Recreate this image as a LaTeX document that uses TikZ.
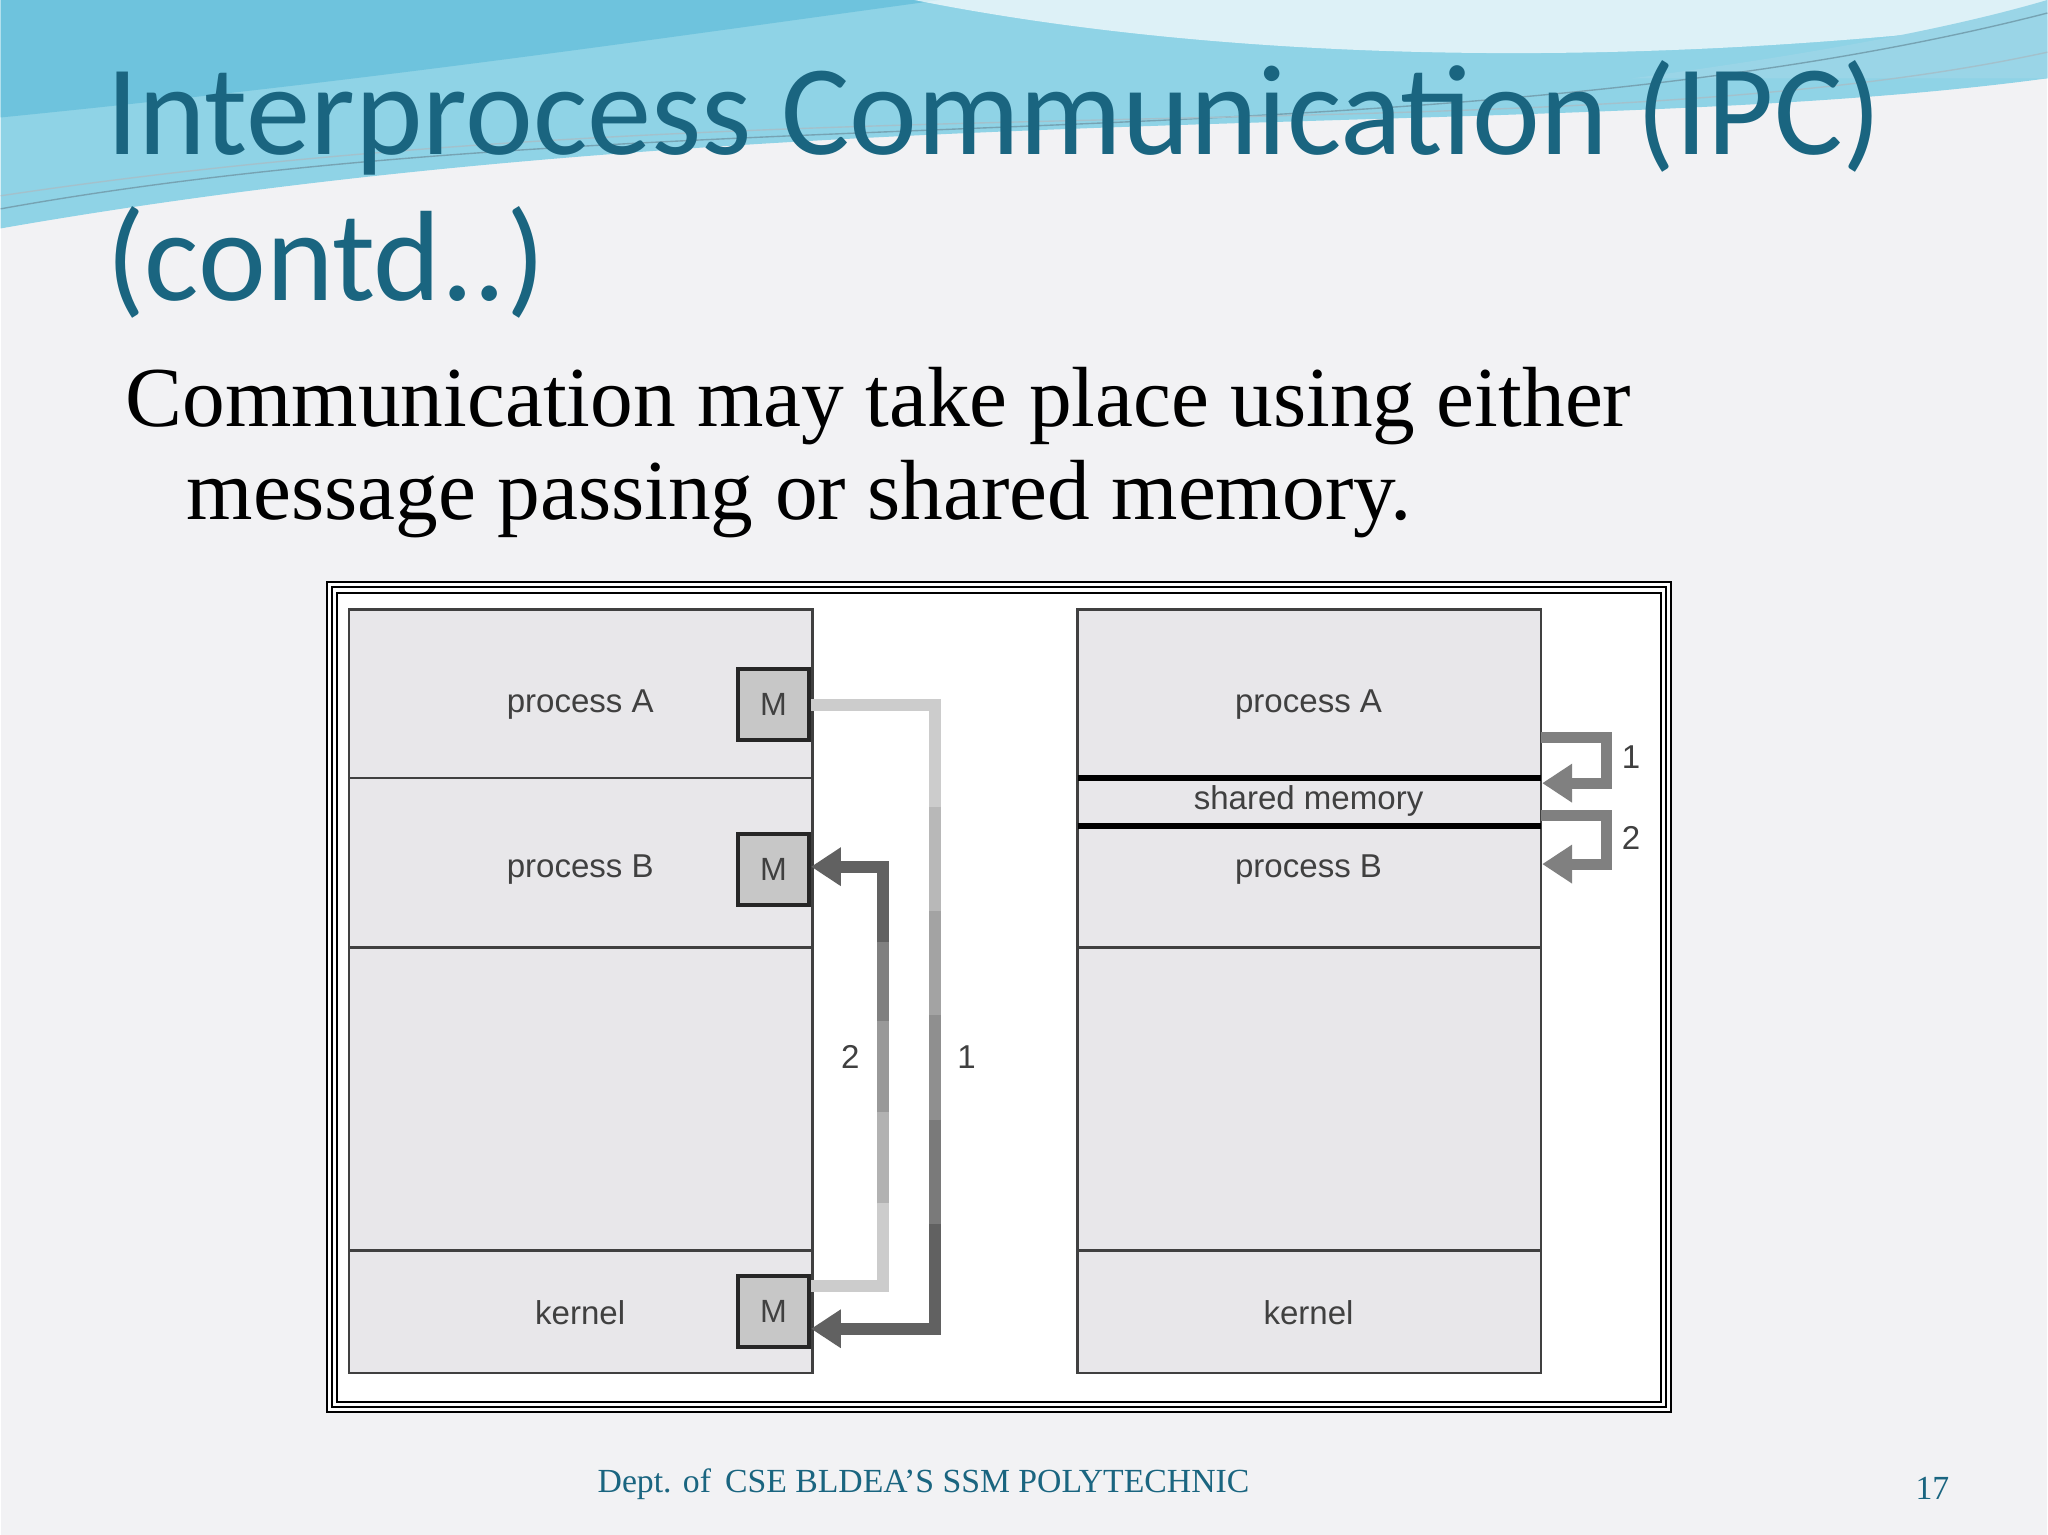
\documentclass[tikz,border=0pt]{standalone}
\usepackage{fontspec}
\setmainfont{Liberation Serif}
\newfontfamily\titlefont{Carlito}
\newfontfamily\labfont{Liberation Sans}
\usetikzlibrary{arrows.meta}
\definecolor{teal1}{HTML}{1A6580}
\definecolor{boxg}{HTML}{E8E7EA}
\definecolor{bg}{HTML}{F2F2F4}
\definecolor{wave1}{HTML}{8FD3E6}
\definecolor{wave2}{HTML}{6EC3DD}
\tikzset{
 pbox/.style={draw=black!75,line width=0.5pt,fill=boxg},
 mbox/.style={draw=black!85,line width=0.9pt,fill=black!22,minimum width=15.5pt,minimum height=15.5pt,inner sep=0,font=\labfont\fontsize{7}{8}\selectfont,text=black!75},
 lab/.style={font=\labfont\fontsize{7.2}{8}\selectfont,text=black!75},
 arr/.style={line width=2.6pt,color=black!62,-{Triangle[length=6.5pt,width=8pt]}},
 seg/.style={line width=2.6pt},
}
\begin{document}
\begin{tikzpicture}[x=0.01cm,y=-0.01cm]
\fill[bg] (0,0) rectangle (1568,1176);
% top wave
\fill[wave1] (0,0) -- (1568,0) -- (1568,60) .. controls (1200,110) and (600,70) .. (0,175) -- cycle;
\fill[wave2] (0,0) -- (720,0) .. controls (500,30) and (300,60) .. (0,90) -- cycle;
\fill[white,opacity=0.7] (700,0) .. controls (900,40) and (1200,60) .. (1568,15) -- (1568,0) -- cycle;
\fill[wave2!70] (1250,60) .. controls (1400,40) and (1500,20) .. (1568,0) -- (1568,60) -- cycle;
\draw[teal1!60,line width=0.3pt] (0,160) .. controls (500,70) and (1100,130) .. (1568,10);
\draw[teal1!40,line width=0.3pt] (0,150) .. controls (600,60) and (1200,120) .. (1568,40);
% title
\node[anchor=base west,inner sep=0,text=teal1,font=\titlefont\fontsize{28}{30}\selectfont] (t1) at (80,118) {Interprocess Communication (IPC)};
\node[anchor=base west,inner sep=0,text=teal1,font=\titlefont\fontsize{28}{30}\selectfont] (t2) at (80,230) {(contd..)};
\node[anchor=base west,inner sep=0,font=\fontsize{18.6}{20}\selectfont] (b1) at (95,327) {Communication may take place using either};
\node[anchor=base west,inner sep=0,font=\fontsize{18.6}{20}\selectfont] (b2) at (142,398) {message passing or shared memory.};
% frame
\draw[line width=0.45pt,fill=white] (250,446) rectangle (1280,1082);
\draw[line width=0.45pt] (254,450) rectangle (1276,1078);
\draw[line width=0.45pt] (258,454) rectangle (1272,1074);
% left
\draw[pbox] (267,467) rectangle (622,596);
\draw[pbox] (267,596) rectangle (622,726);
\draw[pbox] (267,726) rectangle (622,958);
\draw[pbox] (267,958) rectangle (622,1052);
\node[lab] (la) at (444,540) {process A};
\node[lab] (lb) at (444,666) {process B};
\node[lab] (lk) at (444,1006) {kernel};
\node[mbox] (ma) at (592,540) {M};
\node[mbox] (mb) at (592,666) {M};
\node[mbox] (mk) at (592,1005) {M};
% arrow 1 (gradient light to dark)
\draw[seg,black!20,line join=miter] (ma.east) -- (716,540) -- (716,620);
\draw[seg,black!28] (716,618) -- (716,700);
\draw[seg,black!36] (716,698) -- (716,780);
\draw[seg,black!44] (716,778) -- (716,860);
\draw[seg,black!52] (716,858) -- (716,940);
\draw[arr,line join=miter] (716,938) -- (716,1018) -- (mk.east |- 0,1018);
% arrow 2
\draw[seg,black!20,line join=miter] (mk.east |- 0,985) -- (676,985) -- (676,920);
\draw[seg,black!30] (676,922) -- (676,850);
\draw[seg,black!40] (676,852) -- (676,780);
\draw[seg,black!50] (676,782) -- (676,720);
\draw[arr,line join=miter] (676,722) -- (676,664) -- (mb.east |- 0,664);
\node[lab] (n2) at (651,810) {2};
\node[lab] (n1) at (740,810) {1};
% right
\draw[pbox] (825,467) rectangle (1180,596);
\draw[pbox] (825,596) rectangle (1180,633);
\draw[pbox] (825,633) rectangle (1180,726);
\draw[pbox] (825,726) rectangle (1180,958);
\draw[pbox] (825,958) rectangle (1180,1052);
\draw[line width=1.2pt] (825,596) -- (1180,596) (825,633) -- (1180,633);
\node[lab] (ra) at (1002,540) {process A};
\node[lab] (rs) at (1002,614) {shared memory};
\node[lab] (rb) at (1002,666) {process B};
\node[lab] (rk) at (1002,1006) {kernel};
\coordinate (s1) at (1180,565);
\coordinate (e1) at (1181,600);
\coordinate (s2) at (1180,625);
\coordinate (e2) at (1181,662);
\draw[arr,color=black!50,line width=2.4pt,line join=miter] (s1) -- (1230,565) -- (1230,600) -- (e1);
\draw[arr,color=black!50,line width=2.4pt,line join=miter] (s2) -- (1230,625) -- (1230,662) -- (e2);
\node[lab] (q1) at (1249,580) {1};
\node[lab] (q2) at (1249,642) {2};
% footer
\node[text=teal1,font=\fontsize{7.35}{9}\selectfont] (ft) at (707,1137) {Dept. of\, CSE BLDEA'S SSM POLYTECHNIC};
\node[text=teal1,font=\fontsize{7.35}{9}\selectfont] (pg) at (1480,1140) {17};
\end{tikzpicture}
\end{document}
